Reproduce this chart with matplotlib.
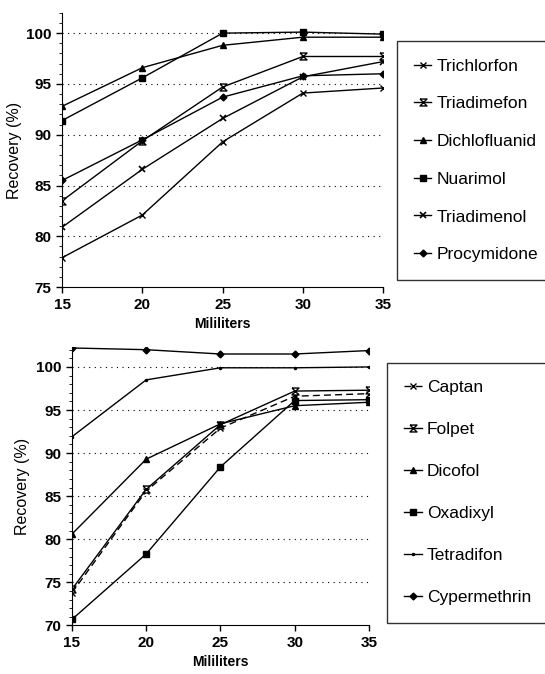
import numpy as np
from matplotlib import pyplot as plt
import matplotlib.ticker as mticker

plt.rcParams['font.family'] = ['Liberation Sans', 'DejaVu Sans']

# Volumes (mL)
ml = [15, 20, 25, 30, 35]

# Top panel
top_names = ['Trichlorfon', 'Triadimefon', 'Dichlofluanid', 'Nuarimol', 'Triadimenol', 'Procymidone']
trichlorfon = [77.9, 82.1, 89.3, 94.1, 94.6]
triadimefon = [83.5, 89.4, 94.7, 97.7, 97.7]
dichlofluanid = [92.8, 96.6, 98.8, 99.6, 99.6]
nuarimol = [91.4, 95.6, 100.0, 100.1, 99.9]
triadimenol = [80.9, 86.6, 91.6, 95.7, 97.2]
procymidone = [85.5, 89.5, 93.7, 95.8, 96.0]

# Bottom panel
bot_names = ['Captan', 'Folpet', 'Dicofol', 'Oxadixyl', 'Tetradifon', 'Cypermethrin']
captan = [73.8, 85.6, 92.9, 96.6, 96.9]
folpet = [74.2, 85.8, 93.3, 97.2, 97.3]
dicofol = [80.6, 89.3, 93.4, 95.5, 95.9]
oxadixyl = [70.7, 78.3, 88.4, 96.1, 96.2]
tetradifon = [91.9, 98.5, 99.9, 99.9, 100.0]
cypermethrin = [102.2, 102.0, 101.5, 101.5, 101.9]

hourglass = [(-1, 1), (1, 1), (-1, -1), (1, -1), (-1, 1)]

fig = plt.figure(figsize=(5.45, 6.74), dpi=100)
ax1 = fig.add_axes([0.114, 0.574, 0.589, 0.407])
ax2 = fig.add_axes([0.132, 0.072, 0.545, 0.413])

lw = 1.0
ax1.plot(ml, trichlorfon, color='k', lw=lw, marker='x', ms=5, mew=1.0, label=top_names[0])
ax1.plot(ml, triadimefon, color='k', lw=lw, marker=hourglass, ms=5, mfc='white', mew=1.0, label=top_names[1])
ax1.plot(ml, dichlofluanid, color='k', lw=lw, marker='^', ms=5, label=top_names[2])
ax1.plot(ml, nuarimol, color='k', lw=lw, marker='s', ms=4, label=top_names[3])
ax1.plot(ml, triadimenol, color='k', lw=lw, marker='x', ms=5, mew=1.2, label=top_names[4])
ax1.plot(ml, procymidone, color='k', lw=lw, marker='D', ms=3.5, label=top_names[5])

ax2.plot(ml, captan, color='k', lw=lw, ls='--', dashes=(5, 3), marker='x', ms=5, mew=1.0, label=bot_names[0])
ax2.plot(ml, folpet, color='k', lw=lw, marker=hourglass, ms=5, mfc='white', mew=1.0, label=bot_names[1])
ax2.plot(ml, dicofol, color='k', lw=lw, marker='^', ms=5, label=bot_names[2])
ax2.plot(ml, oxadixyl, color='k', lw=lw, marker='s', ms=4, label=bot_names[3])
ax2.plot(ml, tetradifon, color='k', lw=lw, marker='.', ms=3, label=bot_names[4])
ax2.plot(ml, cypermethrin, color='k', lw=lw, marker='D', ms=3.5, label=bot_names[5])

for ax, lo, hi, grid in [(ax1, 75, 102, [80, 85, 90, 95, 100]),
                         (ax2, 70, 102.3, [75, 80, 85, 90, 95, 100])]:
    ax.set_xlim(15, 35)
    ax.set_ylim(lo, hi)
    ax.set_xticks(ml)
    ax.set_yticks(np.arange(lo, 101, 5))
    ax.yaxis.set_minor_locator(mticker.MultipleLocator(1))
    for g in grid:
        ax.axhline(g, color='k', lw=0.8, ls=(0, (1, 4)), zorder=0)
    ax.spines['top'].set_visible(False)
    ax.spines['right'].set_visible(False)
    ax.tick_params(axis='both', which='major', labelsize=11, length=4, width=1)
    ax.tick_params(axis='y', which='minor', length=2, width=0.6)
    ax.set_xlabel('Mililiters', fontweight='bold', fontsize=10)
    ax.set_ylabel('Recovery (%)', fontsize=11.5)
    ax.yaxis.set_label_coords(-0.125 if ax is ax1 else -0.14, 0.5)
    for lab in ax.get_xticklabels() + ax.get_yticklabels():
        lab.set_fontweight('bold')

leg_kw = dict(loc='upper left', fontsize=12.5, handlelength=1.0, handletextpad=0.3,
              frameon=True, fancybox=False, edgecolor='k', borderpad=1.0,
              borderaxespad=0)
l1 = fig.legend(*ax1.get_legend_handles_labels(), bbox_to_anchor=(0.728, 0.939),
                labelspacing=1.3, **leg_kw)
l2 = fig.legend(*ax2.get_legend_handles_labels(), bbox_to_anchor=(0.71, 0.462),
                labelspacing=1.55, **leg_kw)
for l in (l1, l2):
    l.get_frame().set_linewidth(1.0)

plt.savefig('out.png', dpi=100)
